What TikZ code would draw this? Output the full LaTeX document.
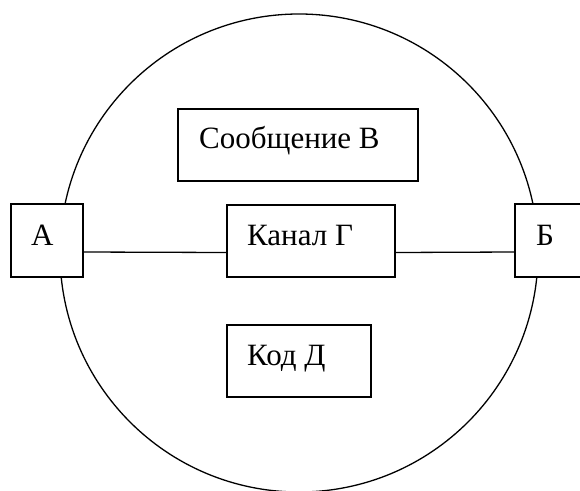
\documentclass[tikz,border=0pt]{standalone}
\usepackage{fontspec}
\setmainfont{Liberation Serif}
\begin{document}
\begin{tikzpicture}[x=1pt,y=-1pt,
  frame/.style={draw, fill=white, line width=1.5pt, rectangle, inner sep=0pt},
  lbl/.style={anchor=base west, inner sep=0pt, font=\fontsize{31}{37}\selectfont},
  wire/.style={line width=1.3pt}]
\useasboundingbox (0,0) rectangle (580,490);
\clip (0,0) rectangle (580,490);
% outer ring
\node[circle, draw, line width=1.3pt, inner sep=0pt, minimum size=478pt] (ring) at (299,253) {};
% boxes
\node[frame, minimum width=72pt, minimum height=73pt] (A) at (47,240.5) {};
\node[frame, minimum width=168pt, minimum height=72pt] (K) at (311,241) {};
\node[frame, minimum width=66pt, minimum height=73pt] (B) at (548,240.5) {};
\node[frame, minimum width=240pt, minimum height=72pt] (S) at (298,145) {};
\node[frame, minimum width=144pt, minimum height=72pt] (D) at (299,361) {};
% connectors
\draw[wire] ([yshift=-11.5pt]A.east) -- ([yshift=-11.5pt]K.west);
\draw[wire] ([yshift=-11.5pt]K.east) -- ([yshift=-11.5pt]B.west);
% labels
\node[lbl] (tA) at (31,245) {А};
\node[lbl] (tK) at (247,245) {Канал Г};
\node[lbl] (tB) at (536,245) {Б};
\node[lbl] (tS) at (199,148) {Сообщение В};
\node[lbl] (tD) at (247,365) {Код Д};
\end{tikzpicture}
\end{document}
